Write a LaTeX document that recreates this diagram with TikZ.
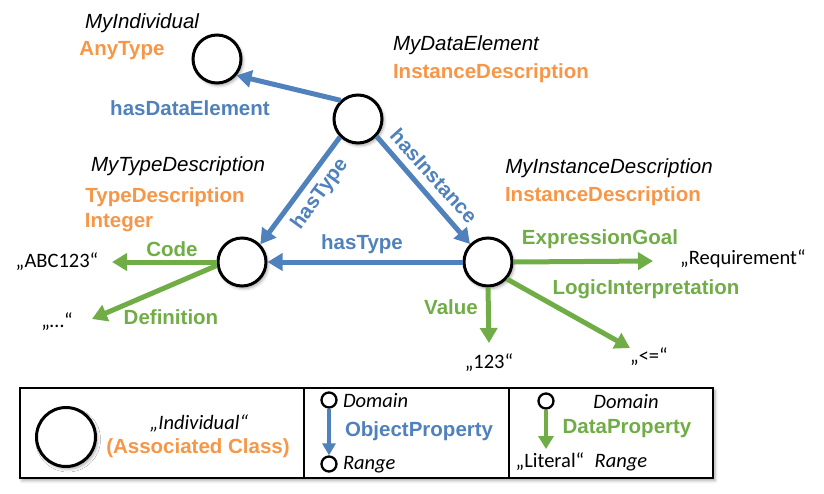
\documentclass[tikz,border=0pt]{standalone}
\usepackage{fontspec}
\setmainfont{Liberation Sans}
\newfontfamily\calfont{Carlito}
\usetikzlibrary{arrows.meta,shadows.blur}
\definecolor{cblue}{HTML}{4F81BD}
\definecolor{cgreen}{HTML}{70AD47}
\definecolor{corange}{HTML}{F79646}
\begin{document}
\begin{tikzpicture}[x=1pt,y=-1pt,
  every node/.style={inner sep=0pt, outer sep=0pt},
  base/.style={font=\fontsize{20.5}{24}\selectfont},
  ital/.style={font=\fontsize{20.5}{24}\selectfont\itshape},
  calit/.style={font=\fontsize{20.5}{24}\selectfont\calfont\itshape},
  lit/.style={font=\fontsize{20.5}{24}\selectfont\calfont},
  orn/.style={font=\fontsize{20.5}{24}\selectfont\bfseries, text=corange},
  bl/.style={font=\fontsize{20.5}{24}\selectfont\bfseries, text=cblue},
  gr/.style={font=\fontsize{20.5}{24}\selectfont\bfseries, text=cgreen},
  shade/.style={blur shadow={shadow xshift=2pt, shadow yshift=-2.5pt, shadow blur radius=3pt, shadow opacity=35}},
  ind/.style={circle, draw=black, line width=3pt, fill=white, minimum size=48pt, outer sep=1.5pt, shade},
  small/.style={circle, draw=black, line width=2.3pt, fill=white, minimum size=15pt, outer sep=1.15pt},
  oprop/.style={draw=cblue, line width=5pt, -{Triangle[length=15pt,width=17pt]}},
  dprop/.style={draw=cgreen, line width=5pt, -{Triangle[length=15pt,width=17pt]}},
  oleg/.style={draw=cblue, line width=3.5pt, -{Triangle[length=12pt,width=13pt]}},
  dleg/.style={draw=cgreen, line width=3.5pt, -{Triangle[length=13pt,width=15pt]}}]
\useasboundingbox (0,0) rectangle (824,493);

% individuals
\node[ind] (ind) at (217,59) {};
\node[ind] (de) at (358,119) {};
\node[ind] (td) at (242,262) {};
\node[ind] (inst) at (488,262) {};

% names and classes
\node[ital] (nInd) at (142,23) {MyIndividual};
\node[orn] (cInd) at (122,51) {AnyType};
\node[ital] (nDe) at (466,45) {MyDataElement};
\node[orn] (cDe) at (491,73) {InstanceDescription};
\node[ital] (nTd) at (178,166) {MyTypeDescription};
\node[orn] (cTd) at (165,197) {TypeDescription};
\node[orn] (cTd2) at (119,223) {Integer};
\node[ital] (nIn) at (609,168) {MyInstanceDescription};
\node[orn] (cIn) at (603,196) {InstanceDescription};

% object properties
\draw[oprop] (de.133) -- (ind.-40);
\draw[oprop] (de.225) -- (td.44);
\draw[oprop] (de.-43) -- (inst.135);
\draw[oprop] (inst.west) -- (td.east);
\node[bl] (lHde) at (190,108) {hasDataElement};
\node[bl, rotate=54] (lHt1) at (320,194) {hasType};
\node[bl, rotate=-48] (lHi) at (434,176) {hasInstance};
\node[bl] (lHt2) at (362,244) {hasType};

% data properties
\coordinate (abc) at (112,262);
\coordinate (dots) at (92,319);
\coordinate (req) at (653,261);
\coordinate (le) at (630,348);
\coordinate (val) at (489,343);
\draw[dprop] (td.west) -- (abc);
\draw[dprop] (td.188) -- (dots);
\draw[dprop] (inst.east) -- (req);
\draw[dprop] (inst.-42) -- (le);
\draw[dprop] (inst.south) -- (val);
\node[gr] (lCode) at (172,249) {Code};
\node[gr] (lDef) at (171,317) {Definition};
\node[gr] (lEg) at (600,239) {ExpressionGoal};
\node[gr] (lLi) at (646,289) {LogicInterpretation};
\node[gr] (lVal) at (451,307) {Value};
\node[lit] (tAbc) at (57,262) {„ABC123“};
\node[lit] (tDots) at (57,322) {„…“};
\node[lit] (tReq) at (743,259) {„Requirement“};
\node[lit] (tLe) at (649,357) {„<=“};
\node[lit] (tVal) at (489,363) {„123“};

% legend
\node[draw=black, line width=2.5pt, fill=white, minimum width=693pt, minimum height=90pt, anchor=north west, shade] (leg) at (20,388) {};
\draw[line width=2pt] (304,388) -- (304,478);
\draw[line width=2pt] (509,388) -- (509,478);
\node[ind, minimum size=59pt] (lgInd) at (66,437) {};
\node[calit] (lgT1) at (199,423) {„Individual“};
\node[orn] (lgT2) at (198,448) {(Associated Class)};

\node[small] (od) at (329,400) {};
\node[small] (or) at (329,464) {};
\draw[oleg] (od.south) -- (or.north);
\node[calit, anchor=west] (odT) at (343,401) {Domain};
\node[bl, anchor=west] (opT) at (345,431) {ObjectProperty};
\node[calit, anchor=west] (orT) at (343,465) {Range};

\node[small] (dd) at (546,401) {};
\coordinate (dr) at (546,449);
\draw[dleg] (dd.south) -- (dr);
\node[calit] (ddT) at (626,402) {Domain};
\node[gr] (dpT) at (627,429) {DataProperty};
\node[lit] (dlT) at (550,462) {„Literal“};
\node[calit] (drT) at (621,463) {Range};
\end{tikzpicture}
\end{document}
